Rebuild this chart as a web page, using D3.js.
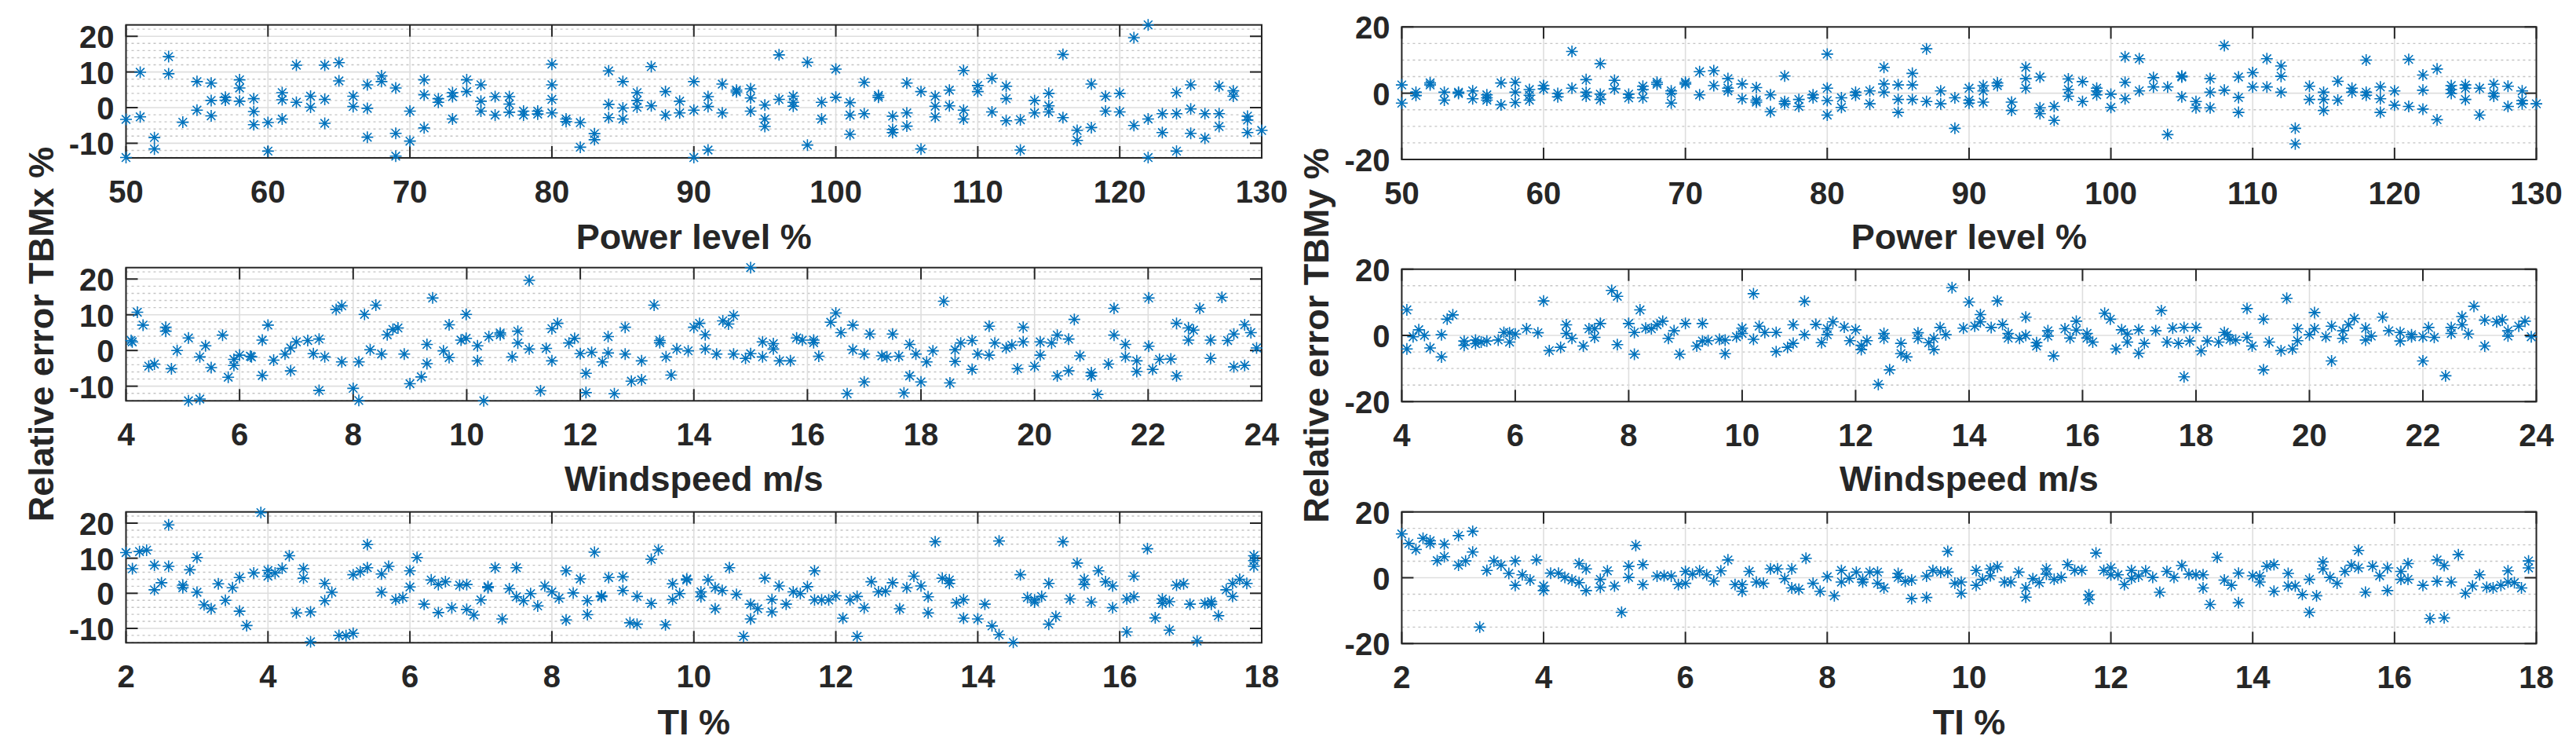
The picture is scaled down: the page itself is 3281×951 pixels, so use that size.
<!DOCTYPE html>
<html>
<head>
<meta charset="utf-8">
<script src="https://cdn.jsdelivr.net/npm/d3@7"></script>
<style>
  body { margin: 0; background: #fff; }
  svg text { font-family: "Liberation Sans", Arial, Helvetica, sans-serif; font-weight: bold; fill: #262626; }
</style>
</head>
<body>
<svg id="chart" width="3281" height="951"></svg>
<script>
// tick labels
const powerTicks = [50, 60, 70, 80, 90, 100, 110, 120, 130];
const windTicks = [4, 6, 8, 10, 12, 14, 16, 18, 20, 22, 24];
const tiTicks = [2, 4, 6, 8, 10, 12, 14, 16, 18];
const tbmxTicks = [-10, 0, 10, 20];
const tbmyTicks = [-20, 0, 20];

// relative error TBMx vs power level, [power %, error %]
const tbmxPower = [
  [50,-3.3],[50,-14],[51,9.9],[51,-2.6],[52,-8.4],[52,-11.6],[53,14.3],[53,9.5],[54,-4.1],[55,7.3],[55,-0.7],
  [56,6.9],[56,2.0],[56,-2.3],[57,2.9],[57,2.1],[58,7.8],[58,5.5],[58,1.8],[59,2.5],[59,-1.1],[59,-4.8],
  [60,-4.2],[60,-12.2],[61,4.2],[61,2.2],[61,-3.2],[62,11.9],[62,1.5],[63,3.2],[63,0.1],[64,11.9],[64,2.3],[64,-4.4],
  [65,12.6],[65,7.5],[66,3.2],[66,0.3],[67,6.4],[67,-0.2],[67,-8.3],[68,8.9],[68,7.3],[69,5.5],[69,-7.2],[69,-13.6],
  [70,-1.0],[70,-9.4],[71,7.8],[71,3.6],[71,-5.7],[72,2.5],[72,1.5],[73,4.2],[73,3.1],[73,-3.2],[74,7.8],[74,4.5],
  [75,6.4],[75,1.8],[75,-1.0],[76,3.1],[76,-2.1],[77,3.1],[77,1.0],[77,-1.3],[78,-1.0],[78,-2.1],[79,-1.0],[79,-1.8],
  [80,12.2],[80,6.4],[80,2.3],[80,-1.5],[81,-3.2],[81,-3.9],[82,-4.2],[82,-11.1],[83,-7.3],[83,-9.0],
  [84,10.3],[84,0.9],[84,-2.8],[85,7.3],[85,-0.1],[85,-3.2],[86,4.2],[86,2.0],[86,0.1],
  [87,11.5],[87,0.5],[88,4.5],[88,-2.1],[89,1.8],[89,-1.5],[90,7.3],[90,-0.7],[90,-14],[91,3.1],[91,0.3],[91,-11.9],
  [92,6.6],[92,-1.5],[93,4.9],[93,4.4],[94,5.3],[94,2.7],[94,-1.0],[95,0.7],[95,-3.2],[95,-5.3],[96,14.8],[96,2.3],
  [97,3.2],[97,1.5],[97,0.4],[98,12.7],[98,-10.5],[99,1.5],[99,-3.2],[100,10.8],[100,2.9],[101,1.4],[101,-2.1],[101,-7.5],
  [102,7.1],[102,-1.7],[103,3.4],[103,2.9],[104,-2.4],[104,-6.1],[104,-7.0],[105,6.9],[105,-1.5],[105,-5.2],
  [106,4.5],[106,-11.6],[107,3.2],[107,0.4],[107,-2.6],[108,4.9],[108,0.5],[109,10.4],[109,-0.7],[109,-3.2],
  [110,6.2],[110,4.5],[111,8.2],[111,-1.2],[112,6.0],[112,2.5],[112,-3.7],[113,-3.4],[113,-11.9],[114,2.0],[114,-1.5],
  [115,4.0],[115,0.5],[115,-1.2],[116,14.9],[116,-2.8],[117,-6.4],[117,-9.2],[118,6.6],[118,-5.6],[119,3.2],[119,-1.0],
  [120,4.0],[120,-1.2],[121,19.6],[121,-5.0],[122,23.2],[122,-3.2],[122,-14],[123,-1.7],[123,-7.0],
  [124,4.2],[124,-1.7],[124,-12.2],[125,6.4],[125,-0.4],[125,-7.2],[126,-1.7],[126,-8.6],[127,6.0],[127,-1.7],[127,-5.3],
  [128,4.7],[128,3.2],[129,-2.4],[129,-3.5],[129,-7.0],[130,-6.4]
];

// relative error TBMy vs power level
const tbmyPower = [
  [50,2.5],[50,-3.0],[51,0.3],[51,-0.7],[52,3.1],[52,2.5],[53,0.3],[53,-2.1],[54,0.3],[54,-0.1],[55,0.7],[55,-1.7],
  [56,-0.5],[56,-1.4],[56,-2.1],[57,3.1],[57,-3.5],[58,3.3],[58,0.3],[58,-2.8],[59,1.1],[59,-0.6],[59,-2.1],
  [60,2.3],[60,1.3],[61,-0.1],[61,-1.1],[62,12.6],[62,1.5],[63,4.1],[63,0.3],[63,-0.9],[64,8.9],[64,-0.3],[64,-1.9],
  [65,3.9],[65,1.3],[66,-0.3],[66,-1.4],[67,2.1],[67,1.1],[67,-1.4],[68,3.3],[68,2.7],[69,0.7],[69,-0.1],[69,-3.0],
  [70,3.3],[70,2.8],[71,6.5],[71,-0.5],[72,6.8],[72,2.3],[73,4.4],[73,1.5],[73,0.7],[74,2.8],[74,-1.7],
  [75,1.7],[75,-2.1],[75,-2.7],[76,-0.5],[76,-5.6],[77,5.2],[77,-2.5],[77,-3.2],[78,-1.9],[78,-4.0],[79,-0.5],[79,-1.4],
  [80,11.8],[80,1.5],[80,-2.2],[80,-6.6],[81,-1.4],[81,-4.3],[82,0.3],[82,-0.6],[83,0.7],[83,-3.2],
  [84,7.8],[84,2.8],[84,0.3],[85,2.5],[85,-1.9],[85,-5.8],[86,6.0],[86,2.5],[86,-1.9],[87,13.4],[87,-2.5],
  [88,0.7],[88,-3.2],[89,-1.4],[89,-10.6],[90,1.5],[90,-2.1],[90,-3.0],[91,2.3],[91,0.7],[91,-2.7],[92,3.1],[92,2.3],
  [93,-2.7],[93,-5.2],[94,7.8],[94,4.4],[94,1.5],[95,4.9],[95,-4.4],[95,-6.2],[96,-4.0],[96,-8.2],
  [97,4.3],[97,1.1],[97,-0.9],[98,3.5],[98,-2.5],[99,1.5],[99,0.7],[99,-0.5],[100,-0.3],[100,-4.3],
  [101,11.0],[101,3.3],[101,-1.7],[102,10.4],[102,0.7],[103,4.7],[103,1.9],[104,1.9],[104,-12.5],
  [105,5.2],[105,4.9],[105,-1.1],[106,-2.5],[106,-4.4],[107,4.4],[107,0.3],[107,-4.4],[108,14.4],[108,0.9],
  [109,4.9],[109,-1.3],[109,-5.8],[110,6.2],[110,1.9],[111,10.4],[111,1.9],[112,8.2],[112,5.1],[112,0.3],
  [113,-10.6],[113,-15.3],[114,2.1],[114,-1.9],[115,0.3],[115,-1.9],[115,-5.2],[116,3.6],[116,-2.1],[117,1.5],[117,0.3],
  [118,10.0],[118,0.3],[118,-0.6],[119,1.9],[119,-1.7],[119,-5.8],[120,0.7],[120,-3.6],[121,10.2],[121,-4.0],
  [122,5.5],[122,0.9],[122,-4.8],[123,7.3],[123,-8.0],[124,2.3],[124,1.1],[124,-0.1],[125,2.5],[125,1.5],[125,-1.9],
  [126,1.5],[126,-6.6],[127,2.7],[127,-0.1],[127,-0.9],[128,2.1],[128,-4.0],[129,0.7],[129,-2.2],[129,-3.2],[130,-3.2]
];

// relative error TBMx vs windspeed, [m/s, error %]
const tbmxWind = [
  [4.09,2.8],[4.11,2.4],[4.2,10.7],[4.3,7.1],[4.4,-4.4],[4.5,-3.8],[4.7,6.5],[4.7,5.4],[4.8,-5.1],[4.9,0.0],
  [5.1,3.5],[5.1,-14.1],[5.3,-1.8],[5.3,-13.6],[5.4,1.3],[5.5,-4.8],[5.7,4.3],[5.8,-7.5],[5.9,-2.5],[5.9,-4.2],
  [6.0,-1.3],[6.19,-1.6],[6.21,-1.8],[6.4,2.9],[6.4,-7.0],[6.5,7.1],[6.6,-2.7],[6.8,-1.0],[6.9,0.7],[6.9,-5.7],
  [7.0,2.4],[7.2,2.8],[7.3,-0.9],[7.4,3.2],[7.4,-11.2],[7.5,-1.8],[7.7,11.5],[7.8,12.5],[7.8,-3.2],
  [8.0,-10.6],[8.1,-3.2],[8.1,-14.0],[8.2,10.1],[8.3,0.2],[8.4,12.7],[8.5,-1.0],[8.6,4.4],[8.7,5.9],[8.79,6.3],[8.9,-1.0],
  [9.0,-9.3],[9.2,-7.4],[9.3,1.7],[9.3,-3.7],[9.4,14.7],[9.59,-0.1],[9.69,7.2],[9.69,-2.0],[9.9,2.9],[9.99,3.4],[9.99,10.1],
  [10.19,1.3],[10.19,-2.9],[10.3,-14.1],[10.39,3.9],[10.59,4.4],[10.59,4.9],[10.8,-1.8],[10.9,5.4],[10.9,2.1],
  [11.1,19.6],[11.1,0.4],[11.3,-11.3],[11.4,0.6],[11.5,6.1],[11.5,-2.9],[11.6,7.6],[11.8,2.1],[11.9,3.4],
  [12.0,-0.9],[12.1,-6.4],[12.1,-11.8],[12.2,-0.5],[12.39,-3.2],[12.49,3.9],[12.49,-0.7],[12.6,-12.1],
  [12.79,6.5],[12.79,-1.0],[12.9,-8.6],[13.08,-2.9],[13.08,-8.2],[13.3,12.7],[13.4,2.8],[13.4,2.2],[13.51,-1.8],
  [13.6,-6.9],[13.7,0.4],[13.9,-0.1],[14.0,6.5],[14.1,7.6],[14.2,4.4],[14.2,0.4],[14.4,-1.0],[14.51,8.3],[14.61,7.4],
  [14.7,9.8],[14.7,-1.0],[14.91,-2.2],[15.0,23.2],[15.0,-0.9],[15.21,-1.8],[15.21,2.4],[15.4,1.9],[15.4,0.4],
  [15.51,-2.9],[15.7,-2.9],[15.81,3.5],[15.91,2.9],[16.11,2.9],[16.11,2.2],[16.2,-1.6],[16.41,7.9],[16.5,10.5],
  [16.59,5.0],[16.7,-12.1],[16.8,7.1],[16.8,0.2],[17.0,-1.0],[17.0,-8.8],[17.1,4.6],[17.31,-1.5],[17.4,-1.8],
  [17.5,4.6],[17.61,-1.6],[17.7,-11.9],[17.8,1.7],[17.8,-7.1],[17.91,-1.0],[18.0,-8.8],[18.1,-3.2],[18.21,-0.1],
  [18.4,13.8],[18.51,-9.1],[18.6,0.2],[18.6,-3.1],[18.7,2.1],[18.9,2.8],[18.9,-5.3],[19.0,-1.0],[19.2,6.8],[19.2,-1.3],
  [19.3,2.1],[19.5,0.7],[19.6,1.5],[19.7,-5.1],[19.8,6.5],[19.8,2.4],[20.0,-4.4],[20.1,2.4],[20.1,-1.3],[20.3,2.1],
  [20.4,4.3],[20.4,-7.1],[20.6,3.2],[20.6,-5.7],[20.7,8.7],[20.8,-1.5],[21.0,-6.2],[21.0,-7.1],[21.11,-12.3],
  [21.3,-3.8],[21.4,11.8],[21.4,4.3],[21.6,1.7],[21.6,-1.8],[21.8,-2.9],[21.8,-5.9],[22.01,14.7],[22.01,1.2],
  [22.08,-5.3],[22.2,-2.5],[22.4,-2.4],[22.5,7.6],[22.5,-7.1],[22.71,6.3],[22.71,2.9],[22.8,5.7],[22.91,11.8],
  [23.1,2.9],[23.1,-2.2],[23.3,14.9],[23.4,2.8],[23.51,4.6],[23.51,-4.6],[23.7,7.2],[23.7,-4.2],[23.81,5.0],[23.91,0.7]
];

// relative error TBMy vs windspeed
const tbmyWind = [
  [4.09,7.7],[4.09,-4.1],[4.2,-0.4],[4.3,1.7],[4.4,0.0],[4.5,-3.8],[4.7,0.2],[4.7,-6.5],[4.8,4.9],[4.9,6.2],
  [5.1,-1.7],[5.1,-3.0],[5.3,-1.4],[5.3,-2.5],[5.4,-2.0],[5.5,-1.7],[5.7,-1.4],[5.8,0.9],[5.9,0.8],[5.9,-2.0],
  [6.0,0.4],[6.2,2.0],[6.4,0.8],[6.5,10.4],[6.6,-4.6],[6.8,-3.6],[6.9,3.2],[6.9,0.6],[7.0,-0.9],[7.2,-3.2],
  [7.3,2.0],[7.4,2.0],[7.4,-0.6],[7.5,3.6],[7.7,13.6],[7.8,11.8],[7.8,-2.8],[8.0,3.6],[8.1,0.9],[8.1,-5.7],
  [8.2,7.7],[8.3,2.2],[8.4,2.0],[8.5,3.2],[8.6,4.3],[8.7,-0.9],[8.8,1.4],[8.9,-5.7],[9.0,3.6],[9.2,-3.2],
  [9.3,3.6],[9.3,-1.7],[9.4,-1.6],[9.6,-1.2],[9.7,-1.4],[9.7,-5.5],[9.9,-0.4],[10.0,2.2],[10.0,0.6],
  [10.2,12.6],[10.2,-1.2],[10.3,2.8],[10.4,0.9],[10.6,0.9],[10.6,-4.9],[10.8,-3.6],[10.9,-2.4],[10.9,3.2],
  [11.1,10.3],[11.1,0.2],[11.3,3.3],[11.4,-2.2],[11.5,2.0],[11.5,0.2],[11.6,4.1],[11.8,2.5],[11.9,-1.6],
  [12.0,1.7],[12.1,-3.0],[12.1,-4.3],[12.2,-1.6],[12.4,-14.8],[12.5,0.6],[12.5,-0.9],[12.6,-10.4],[12.8,-2.4],
  [12.8,-5.5],[12.9,-6.5],[13.1,0.8],[13.1,-0.9],[13.29,-2.2],[13.38,-0.9],[13.38,-4.3],[13.49,2.4],[13.59,0.2],
  [13.7,14.4],[13.9,2.2],[14.0,10.1],[14.1,2.8],[14.2,6.3],[14.2,4.1],[14.39,2.4],[14.5,10.4],[14.59,3.3],
  [14.69,0.6],[14.69,-0.8],[14.89,-0.9],[15.0,5.5],[15.0,0.0],[15.19,-2.2],[15.19,-3.2],[15.39,1.4],[15.39,-0.2],
  [15.49,-6.2],[15.69,2.0],[15.78,-0.8],[15.89,4.3],[15.89,1.6],[16.08,0.6],[16.08,-0.8],[16.18,-2.0],[16.39,6.7],
  [16.49,4.9],[16.59,-4.1],[16.69,1.7],[16.79,-2.0],[16.79,0.4],[16.99,-5.4],[16.99,1.7],[17.09,-2.4],[17.29,1.4],
  [17.39,7.5],[17.49,-2.0],[17.59,2.2],[17.69,-2.4],[17.79,2.4],[17.79,-12.5],[17.89,-1.7],[18.0,2.4],[18.09,-4.7],
  [18.2,-1.7],[18.4,-2.0],[18.5,0.9],[18.55,0.2],[18.6,-1.2],[18.7,-1.4],[18.9,8.1],[18.9,-0.6],[18.99,-3.2],
  [19.19,4.9],[19.19,-10.4],[19.29,-2.0],[19.5,-4.6],[19.6,11.2],[19.7,-4.1],[19.79,2.0],[19.79,-1.6],[20.0,0.2],
  [20.09,6.9],[20.09,2.0],[20.29,-0.4],[20.39,2.8],[20.39,-7.7],[20.59,-0.9],[20.59,1.4],[20.69,3.2],[20.79,5.1],
  [20.99,2.2],[20.99,-1.4],[21.09,-0.2],[21.29,5.5],[21.4,1.4],[21.6,0.9],[21.6,-1.7],[21.8,0.2],[21.8,-0.4],
  [22.0,-0.4],[22.0,-7.7],[22.1,2.4],[22.2,-0.6],[22.4,-12.2],[22.5,2.4],[22.5,0.6],[22.69,5.7],[22.69,3.2],
  [22.8,0.4],[22.9,8.8],[23.09,4.6],[23.09,-3.2],[23.3,4.1],[23.4,4.7],[23.5,1.4],[23.5,-0.2],[23.69,2.8],
  [23.8,4.3],[23.91,-0.4]
];

// relative error TBMx vs turbulence intensity, [TI %, error %]
const tbmxTi = [
  [2.0,11.6],[2.09,7.0],[2.19,11.9],[2.29,12.3],[2.4,8.0],[2.4,1.0],[2.5,3.0],[2.6,19.5],[2.6,7.7],[2.8,2.3],
  [2.8,1.6],[2.9,6.7],[3.0,10.2],[3.0,0.3],[3.1,-3.3],[3.2,-4.4],[3.3,2.7],[3.4,-2.0],[3.5,1.6],[3.6,4.5],
  [3.6,-5.1],[3.7,-9.2],[3.8,5.8],[3.9,23.0],[4.0,6.5],[4.0,4.9],[4.1,5.8],[4.2,7.1],[4.3,10.7],[4.4,-5.6],
  [4.5,7.0],[4.5,4.3],[4.6,-5.3],[4.6,-13.8],[4.8,2.8],[4.8,-2.1],[4.9,0.3],[5.0,-12.0],[5.1,-12.1],[5.2,-11.4],
  [5.2,5.3],[5.3,6.2],[5.4,13.9],[5.4,7.3],[5.6,5.5],[5.6,0.3],[5.7,7.7],[5.8,-1.8],[5.9,-1.2],[6.0,6.4],
  [6.0,1.8],[6.1,10.2],[6.2,-3.1],[6.3,3.8],[6.4,2.5],[6.4,-5.5],[6.5,3.3],[6.59,-4.1],[6.7,2.3],[6.8,2.5],
  [6.8,-4.6],[6.9,-6.2],[7.0,-1.9],[7.1,1.9],[7.1,1.6],[7.2,7.3],[7.3,-7.3],[7.4,1.3],[7.5,7.3],[7.5,-1.0],
  [7.6,-2.1],[7.7,-0.1],[7.8,-3.6],[7.9,2.1],[8.0,0.4],[8.1,-1.4],[8.2,6.4],[8.2,-7.6],[8.3,0.1],[8.4,4.1],
  [8.5,-2.1],[8.5,-6.1],[8.6,11.7],[8.7,-0.7],[8.7,-1.0],[8.8,4.5],[9.0,4.7],[9.0,0.8],[9.1,-8.4],[9.2,-8.8],
  [9.2,-0.9],[9.4,9.7],[9.4,-2.9],[9.5,12.4],[9.6,-9.0],[9.7,2.7],[9.7,-1.8],[9.8,-0.1],[9.9,4.1],[9.9,3.8],
  [10.1,0.4],[10.1,-1.0],[10.2,3.8],[10.3,1.6],[10.3,-4.4],[10.4,0.8],[10.5,7.3],[10.6,-0.3],[10.7,-12.3],
  [10.8,-3.1],[10.8,-7.3],[10.9,-4.4],[11.0,4.3],[11.1,-1.8],[11.1,-5.3],[11.2,2.1],[11.3,-3.1],[11.4,0.4],
  [11.5,-0.1],[11.6,1.9],[11.7,6.4],[11.7,-1.9],[11.8,-1.9],[11.9,-1.9],[12.0,-0.7],[12.1,-7.1],[12.2,-1.9],
  [12.3,-0.9],[12.3,-12.3],[12.4,-4.1],[12.5,3.3],[12.6,0.4],[12.7,0.6],[12.8,3.0],[12.9,-4.4],[13.0,1.6],
  [13.1,4.9],[13.2,2.1],[13.3,-1.0],[13.3,-5.6],[13.4,14.7],[13.5,4.3],[13.6,3.8],[13.6,2.8],[13.7,-2.7],
  [13.8,-1.8],[13.8,-7.1],[14.0,-7.3],[14.1,-3.1],[14.2,-9.3],[14.3,-11.8],[14.3,14.9],[14.5,-14.0],[14.6,5.3],
  [14.7,-1.2],[14.8,-1.9],[14.8,-2.5],[14.9,-0.9],[15.0,2.8],[15.0,-8.8],[15.1,-6.6],[15.2,14.7],[15.3,-1.6],
  [15.4,8.6],[15.5,4.0],[15.5,2.5],[15.6,-2.5],[15.7,6.4],[15.8,3.3],[15.9,2.1],[15.9,-4.1],[16.1,-1.6],
  [16.1,-11.0],[16.2,4.9],[16.2,-1.0],[16.39,12.7],[16.5,-7.0],[16.6,-1.6],[16.6,-2.9],[16.7,-2.4],[16.7,-10.5],
  [16.8,2.3],[16.9,2.7],[16.99,-3.1],[17.09,-13.6],[17.2,-2.9],[17.29,-2.4],[17.29,-3.1],[17.39,-6.4],[17.5,1.0],
  [17.59,2.8],[17.59,-0.9],[17.69,4.0],[17.79,2.8],[17.89,10.7],[17.89,7.7],[17.89,9.3]
];

// relative error TBMy vs turbulence intensity
const tbmyTi = [
  [2.0,13.3],[2.1,10.4],[2.2,8.6],[2.3,12.0],[2.4,11.2],[2.4,10.4],[2.5,5.2],[2.6,10.2],[2.6,6.4],[2.8,12.8],
  [2.8,3.8],[2.9,5.1],[3.0,14.1],[3.0,7.8],[3.1,-15.0],[3.2,2.2],[3.3,5.1],[3.4,3.8],[3.51,1.3],[3.6,5.1],
  [3.6,-2.3],[3.7,0.9],[3.81,-0.7],[3.9,5.4],[4.0,-2.5],[4.0,-3.9],[4.1,1.4],[4.21,1.4],[4.3,0.1],[4.4,-0.7],
  [4.5,4.3],[4.5,-1.5],[4.6,2.7],[4.6,-3.9],[4.8,-0.5],[4.8,-2.9],[4.9,2.1],[5.0,-2.5],[5.1,-10.5],[5.2,3.5],
  [5.2,0.1],[5.3,9.8],[5.4,4.0],[5.4,-2.1],[5.6,0.5],[5.7,0.6],[5.8,0.5],[5.9,-2.1],[6.0,1.9],[6.0,-1.7],
  [6.1,1.1],[6.2,2.1],[6.3,0.9],[6.4,-1.0],[6.5,2.1],[6.6,5.4],[6.7,-2.1],[6.8,-2.1],[6.8,-4.1],[6.9,1.9],
  [7.0,-1.3],[7.1,-1.7],[7.2,2.7],[7.3,2.7],[7.4,-0.3],[7.5,2.7],[7.5,-3.1],[7.6,-3.5],[7.7,5.9],[7.8,-1.7],
  [7.9,-4.1],[8.0,0.3],[8.1,-5.5],[8.2,2.2],[8.2,-1.3],[8.31,-0.2],[8.41,1.7],[8.5,-0.5],[8.5,-1.3],[8.6,1.7],
  [8.71,1.7],[8.71,-1.7],[8.8,-3.1],[9.0,1.3],[9.0,0.1],[9.1,-1.1],[9.19,-0.7],[9.19,-6.3],[9.4,0.5],[9.4,-6.0],
  [9.49,2.2],[9.6,1.7],[9.7,8.0],[9.7,1.7],[9.8,-1.7],[9.89,-1.3],[9.89,-4.7],[10.1,2.2],[10.1,-2.3],[10.19,-0.5],
  [10.3,2.7],[10.3,0.6],[10.4,3.3],[10.5,-1.3],[10.59,-1.3],[10.7,1.7],[10.8,-3.1],[10.8,-5.9],[10.9,-0.3],
  [10.99,-1.5],[11.09,2.7],[11.09,1.1],[11.2,-0.5],[11.3,0.1],[11.39,4.0],[11.49,2.2],[11.59,2.2],[11.69,-5.2],
  [11.69,-6.7],[11.79,7.5],[11.9,2.2],[12.0,3.0],[12.0,0.9],[12.1,0.9],[12.19,-2.1],[12.29,2.2],[12.29,-0.2],
  [12.39,0.5],[12.49,2.1],[12.59,0.1],[12.69,-4.4],[12.79,1.9],[12.89,0.1],[13.0,3.7],[13.1,1.1],[13.2,0.9],
  [13.3,0.9],[13.3,-3.1],[13.4,-8.1],[13.5,6.2],[13.6,-0.7],[13.7,-2.3],[13.8,1.4],[13.8,-7.6],[14.0,0.6],
  [14.1,0.5],[14.1,-1.3],[14.2,3.5],[14.3,4.0],[14.3,-4.1],[14.5,1.3],[14.5,-2.5],[14.6,-2.5],[14.7,-5.1],
  [14.8,-0.5],[14.8,-10.5],[14.9,-5.5],[14.99,4.8],[14.99,2.7],[15.09,0.1],[15.19,-1.7],[15.3,1.9],[15.39,3.8],
  [15.49,8.3],[15.49,3.0],[15.59,-4.4],[15.69,3.5],[15.79,0.6],[15.9,3.0],[15.9,-3.9],[16.09,1.9],[16.09,-0.5],
  [16.19,4.3],[16.19,-0.5],[16.4,-2.3],[16.5,-12.4],[16.6,5.4],[16.6,-1.1],[16.7,3.7],[16.7,-12.2],[16.8,-1.3],
  [16.9,7.0],[17.0,-4.7],[17.1,-2.5],[17.2,0.9],[17.3,-2.9],[17.39,-3.1],[17.5,-2.3],[17.6,2.1],[17.6,-1.3],
  [17.69,-1.5],[17.79,-3.1],[17.89,5.1],[17.89,3.0]
];

const svg = d3.select("#chart");
const ink = "#262626";
const markerColor = "#0072BD";

const colL = { left: 160.5, right: 1607, yTitleX: 68, yDomain: [-14.1, 23.2], yTicks: tbmxTicks, minorStep: 2 };
const colR = { left: 1785.4, right: 3230.5, yTitleX: 1692, yDomain: [-20, 20], yTicks: tbmyTicks, minorStep: 5 };

const panels = [
  { col: colL, data: tbmxPower, xDomain: [50, 130], xTicks: powerTicks, top: 31.7, bottom: 201, tickBase: 258, title: "Power level %", titleBase: 317 },
  { col: colR, data: tbmyPower, xDomain: [50, 130], xTicks: powerTicks, top: 34.3, bottom: 203, tickBase: 260, title: "Power level %", titleBase: 317 },
  { col: colL, data: tbmxWind, xDomain: [4, 24], xTicks: windTicks, top: 340.7, bottom: 510.3, tickBase: 567, title: "Windspeed m/s", titleBase: 625 },
  { col: colR, data: tbmyWind, xDomain: [4, 24], xTicks: windTicks, top: 342.7, bottom: 511.3, tickBase: 568, title: "Windspeed m/s", titleBase: 625 },
  { col: colL, data: tbmxTi, xDomain: [2, 18], xTicks: tiTicks, top: 651.7, bottom: 818.3, tickBase: 875, title: "TI %", titleBase: 935 },
  { col: colR, data: tbmyTi, xDomain: [2, 18], xTicks: tiTicks, top: 651.7, bottom: 819.3, tickBase: 876, title: "TI %", titleBase: 935 }
];

// MATLAB style '*' marker: plus and cross overlaid
const r = 7.5, d = 5.4;
const starPath = `M${-r},0H${r}M0,${-r}V${r}M${-d},${-d}L${d},${d}M${-d},${d}L${d},${-d}`;

panels.forEach(p => {
  const c = p.col;
  const x = d3.scaleLinear().domain(p.xDomain).range([c.left, c.right]);
  const y = d3.scaleLinear().domain(c.yDomain).range([p.bottom, p.top]);
  const g = svg.append("g");

  // minor horizontal grid (dotted)
  const lo = Math.ceil(c.yDomain[0] / c.minorStep) * c.minorStep;
  const minor = d3.range(lo, c.yDomain[1] + 1e-9, c.minorStep).filter(v => !c.yTicks.includes(v));
  g.selectAll(".minor").data(minor).join("line")
    .attr("x1", c.left).attr("x2", c.right)
    .attr("y1", v => y(v)).attr("y2", v => y(v))
    .attr("stroke", "#c4c4c4").attr("stroke-width", 1.4).attr("stroke-dasharray", "3,4");

  // major grid
  g.selectAll(".gx").data(p.xTicks).join("line")
    .attr("x1", v => x(v)).attr("x2", v => x(v))
    .attr("y1", p.top).attr("y2", p.bottom)
    .attr("stroke", "#dedede").attr("stroke-width", 1.6);
  g.selectAll(".gy").data(c.yTicks).join("line")
    .attr("x1", c.left).attr("x2", c.right)
    .attr("y1", v => y(v)).attr("y2", v => y(v))
    .attr("stroke", "#dedede").attr("stroke-width", 1.6);

  // frame
  g.append("rect")
    .attr("x", c.left).attr("y", p.top)
    .attr("width", c.right - c.left).attr("height", p.bottom - p.top)
    .attr("fill", "none").attr("stroke", ink).attr("stroke-width", 2);

  // inward ticks on all four sides
  const tl = 15;
  p.xTicks.forEach(v => {
    g.append("line").attr("x1", x(v)).attr("x2", x(v)).attr("y1", p.bottom).attr("y2", p.bottom - tl)
      .attr("stroke", ink).attr("stroke-width", 2);
    g.append("line").attr("x1", x(v)).attr("x2", x(v)).attr("y1", p.top).attr("y2", p.top + tl)
      .attr("stroke", ink).attr("stroke-width", 2);
  });
  c.yTicks.forEach(v => {
    g.append("line").attr("x1", c.left).attr("x2", c.left + tl).attr("y1", y(v)).attr("y2", y(v))
      .attr("stroke", ink).attr("stroke-width", 2);
    g.append("line").attr("x1", c.right).attr("x2", c.right - tl).attr("y1", y(v)).attr("y2", y(v))
      .attr("stroke", ink).attr("stroke-width", 2);
  });

  // tick labels
  g.selectAll(".xl").data(p.xTicks).join("text")
    .attr("x", v => x(v)).attr("y", p.tickBase)
    .attr("text-anchor", "middle").attr("font-size", 40)
    .text(v => v);
  g.selectAll(".yl").data(c.yTicks).join("text")
    .attr("x", c.left - 15).attr("y", v => y(v) + 15)
    .attr("text-anchor", "end").attr("font-size", 40)
    .text(v => v);

  // axis title
  g.append("text")
    .attr("x", (c.left + c.right) / 2).attr("y", p.titleBase)
    .attr("text-anchor", "middle").attr("font-size", 45)
    .text(p.title);

  // points
  g.append("g").selectAll("path").data(p.data).join("path")
    .attr("d", starPath)
    .attr("transform", dd => `translate(${x(dd[0])},${y(dd[1])})`)
    .attr("fill", "none").attr("stroke", markerColor).attr("stroke-width", 1.6);
});

// y axis titles, centred on the middle row
svg.append("text")
  .attr("transform", `translate(${colL.yTitleX},425.5) rotate(-90)`)
  .attr("text-anchor", "middle").attr("font-size", 45)
  .text("Relative error TBMx %");
svg.append("text")
  .attr("transform", `translate(${colR.yTitleX},427) rotate(-90)`)
  .attr("text-anchor", "middle").attr("font-size", 45)
  .text("Relative error TBMy %");
</script>
</body>
</html>
